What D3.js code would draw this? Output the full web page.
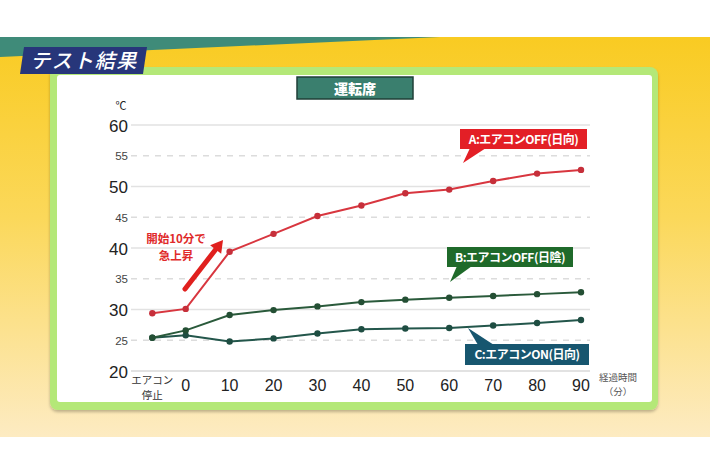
<!DOCTYPE html>
<html><head><meta charset="utf-8">
<script src="https://cdn.jsdelivr.net/npm/d3@7"></script>
<style>
html,body{margin:0;padding:0;background:#fff;}
svg{display:block;font-family:"Noto Sans CJK JP","Noto Sans",sans-serif;}
</style></head>
<body>
<svg id="c" width="710" height="474"></svg>
<script>
// ---- data ----
const xLabels = ["エアコン停止","0","10","20","30","40","50","60","70","80","90"];
const xMinutes = [-7.6,0,10,20,30,40,50,60,70,80,90];
const seriesA = [29.4,30.1,39.4,42.3,45.2,46.9,48.9,49.5,50.9,52.1,52.7];
const seriesB = [25.4,26.6,29.1,29.9,30.5,31.2,31.6,31.9,32.2,32.5,32.8];
const seriesC = [25.4,25.8,24.8,25.3,26.1,26.8,26.9,27.0,27.4,27.8,28.3];
const yTicks = [20,25,30,35,40,45,50,55,60];
const seriesNames = ["A:エアコンOFF(日向)","B:エアコンOFF(日陰)","C:エアコンON(日向)"];
const title = "テスト結果";
const panelTitle = "運転席";
const annotation = ["開始10分で","急上昇"];

const numFont = "'Liberation Sans',Arial,sans-serif";
const svg = d3.select("#c");
const defs = svg.append("defs");
const bg = defs.append("linearGradient").attr("id","bg").attr("x1",0).attr("y1",0).attr("x2",0).attr("y2",1);
bg.append("stop").attr("offset","0%").attr("stop-color","#f9cb22");
bg.append("stop").attr("offset","45%").attr("stop-color","#fbd85a");
bg.append("stop").attr("offset","100%").attr("stop-color","#fdebc2");
const sh = defs.append("filter").attr("id","sh").attr("x","-5%").attr("y","-5%").attr("width","110%").attr("height","115%");
sh.append("feDropShadow").attr("dx",0).attr("dy",2).attr("stdDeviation",1.5).attr("flood-color","#000").attr("flood-opacity",0.25);

// background
svg.append("rect").attr("x",0).attr("y",37).attr("width",710).attr("height",400).attr("fill","url(#bg)");
svg.append("polygon").attr("points","0,37 440,37 0,57").attr("fill","#3f8b79");

// panel
svg.append("rect").attr("x",50).attr("y",67).attr("width",608).attr("height",343).attr("rx",8)
  .attr("fill","#b4e878").attr("filter","url(#sh)");
svg.append("rect").attr("x",57).attr("y",75).attr("width",595).attr("height",327).attr("rx",3).attr("fill","#ffffff");

// title box
svg.append("polygon").attr("points","24,47 147,47 143,74 20,74").attr("fill","#27367a");
svg.append("text").attr("x",84).attr("y",68).attr("text-anchor","middle").attr("fill","#fff")
  .attr("font-size",20).attr("font-style","italic").attr("font-weight",500).attr("letter-spacing",1.5).text(title);

// panel title
svg.append("rect").attr("x",297).attr("y",77).attr("width",116).attr("height",22)
  .attr("fill","#3a7f6e").attr("stroke","#1f3f37").attr("stroke-width",1.5);
svg.append("text").attr("x",355).attr("y",93.5).attr("text-anchor","middle").attr("fill","#fff")
  .attr("font-size",14).attr("font-weight",900).text(panelTitle);

// scales
const x = d3.scaleLinear().domain([0,90]).range([185.7,581]);
const y = d3.scaleLinear().domain([20,60]).range([371,125]);
const gx0 = 131, gx1 = 590;

// gridlines
svg.append("g").selectAll("line").data(yTicks).join("line")
  .attr("x1",gx0).attr("x2",gx1).attr("y1",d=>y(d)).attr("y2",d=>y(d))
  .attr("stroke",d=>d%10===0?"#e2e2e2":"#dcdcdc")
  .attr("stroke-width",d=>d===20?2:1.3)
  .attr("stroke-dasharray",d=>d%10===0?null:"6,6");

// y axis labels
const yAxis = d3.axisLeft(y).tickValues(yTicks).tickSize(0).tickPadding(0);
const yg = svg.append("g").attr("transform",`translate(128,0)`).call(yAxis);
yg.select(".domain").remove();
yg.selectAll("text")
  .attr("font-family",numFont)
  .attr("font-size",d=>d%10===0?17:11.5)
  .attr("font-weight",400)
  .attr("fill",d=>d%10===0?"#222":"#444")
  .attr("dy","0.36em");
svg.append("text").attr("x",121).attr("y",110).attr("text-anchor","middle").attr("font-size",11).attr("fill","#222").text("℃");

// x axis labels
const xg = svg.append("g");
xLabels.forEach((lab,i)=>{
  if(i===0){
    xg.append("text").attr("x",x(xMinutes[i])).attr("y",384).attr("text-anchor","middle").attr("font-size",10.5).attr("fill","#333").text("エアコン");
    xg.append("text").attr("x",x(xMinutes[i])).attr("y",399).attr("text-anchor","middle").attr("font-size",10.5).attr("fill","#333").text("停止");
  } else {
    xg.append("text").attr("x",x(xMinutes[i])).attr("y",391).attr("text-anchor","middle")
      .attr("font-family",numFont).attr("font-size",16).attr("fill","#222").text(lab);
  }
});
svg.append("text").attr("x",618).attr("y",381).attr("text-anchor","middle").attr("font-size",9.5).attr("fill","#555").text("経過時間");
svg.append("text").attr("x",618).attr("y",395).attr("text-anchor","middle").attr("font-size",9.5).attr("fill","#555").text("（分）");

// series
const series = [
  {vals:seriesC, line:"#23564b", dot:"#1e4d42"},
  {vals:seriesB, line:"#2a5a3b", dot:"#244f34"},
  {vals:seriesA, line:"#d8363f", dot:"#c62f3a"}
];
const line = d3.line().x((d,i)=>x(xMinutes[i])).y(d=>y(d));
series.forEach(s=>{
  svg.append("path").attr("d",line(s.vals)).attr("fill","none").attr("stroke",s.line).attr("stroke-width",2);
  svg.append("g").selectAll("circle").data(s.vals).join("circle")
    .attr("cx",(d,i)=>x(xMinutes[i])).attr("cy",d=>y(d)).attr("r",3.2).attr("fill",s.dot);
});

// callout labels
function callout(bx,by,w,h,tip,base,fill,text){
  const g = svg.append("g");
  g.append("polygon").attr("points",`${base[0]},${base[1]} ${base[2]},${base[3]} ${tip[0]},${tip[1]}`).attr("fill",fill);
  g.append("rect").attr("x",bx).attr("y",by).attr("width",w).attr("height",h).attr("fill",fill);
  g.append("text").attr("x",bx+w/2).attr("y",by+h/2+4.5).attr("text-anchor","middle").attr("fill","#fff")
    .attr("font-size",12).attr("font-weight",700).attr("letter-spacing",-0.5).text(text);
}
callout(460,129,127,20,[463,163],[470,148,486,148],"#e31f26",seriesNames[0]);
callout(447,247,126,20,[450,282],[457,266,472,266],"#1f6a2a",seriesNames[1]);
callout(465,344,124,21,[468,328],[478,345,494,345],"#17566f",seriesNames[2]);

// annotation
svg.append("text").attr("x",176).attr("y",243).attr("text-anchor","middle").attr("fill","#e02a2a")
  .attr("font-size",11.5).attr("font-weight",700).text(annotation[0]);
svg.append("text").attr("x",176).attr("y",260).attr("text-anchor","middle").attr("fill","#e02a2a")
  .attr("font-size",11.5).attr("font-weight",700).text(annotation[1]);
// arrow
const ax0=185, ay0=289, ax1=223, ay1=240;
const ang = Math.atan2(ay1-ay0, ax1-ax0);
const hl = 12, hw = 7;
const bxp = ax1 - hl*Math.cos(ang), byp = ay1 - hl*Math.sin(ang);
svg.append("line").attr("x1",ax0).attr("y1",ay0).attr("x2",bxp).attr("y2",byp)
  .attr("stroke","#e0201e").attr("stroke-width",5).attr("stroke-linecap","round");
svg.append("polygon").attr("points",[
  [ax1,ay1],
  [bxp + hw*Math.sin(ang), byp - hw*Math.cos(ang)],
  [bxp - hw*Math.sin(ang), byp + hw*Math.cos(ang)]
].map(p=>p.join(",")).join(" ")).attr("fill","#e0201e");
</script>
</body></html>
